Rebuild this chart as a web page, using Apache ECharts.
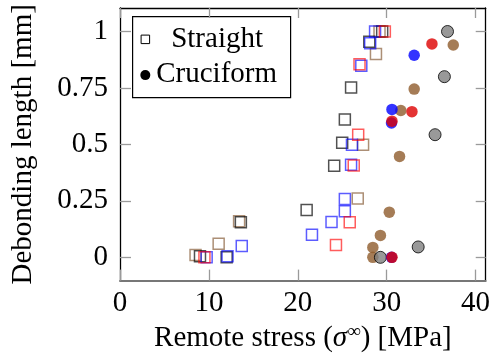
<!DOCTYPE html>
<html>
<head>
<meta charset="utf-8">
<script src="https://cdn.jsdelivr.net/npm/echarts@6/dist/echarts.min.js"></script>
<style>
  html, body { margin: 0; padding: 0; background: #fff; }
  #chart { width: 493px; height: 358px; }
</style>
</head>
<body>
<div id="chart"></div>
<script>
// Tick positions
const xTicks = [0, 10, 20, 30, 40];
const yTicks = [0, 0.25, 0.5, 0.75, 1];

// Straight specimens: [remote stress (MPa), debonding length (mm)]
const straightBlack = [[9.0, 0.005], [12.0, 0.0], [13.6, 0.155], [21.0, 0.21], [24.1, 0.405], [25.0, 0.507], [25.3, 0.61], [26.0, 0.752], [28.05, 0.955], [29.5, 1.0]];
const straightBlue = [[9.75, 0.0], [12.1, 0.005], [13.7, 0.05], [21.6, 0.10], [23.8, 0.157], [25.3, 0.204], [25.3, 0.258], [26.0, 0.41], [26.1, 0.499], [27.15, 0.848], [28.15, 0.948], [28.7, 1.0]];
const straightRed = [[9.5, 0.0], [24.3, 0.055], [25.85, 0.155], [26.3, 0.407], [26.8, 0.543], [26.95, 0.855], [29.8, 1.0]];
const straightBrown = [[8.5, 0.01], [11.1, 0.06], [13.4, 0.16], [26.75, 0.26], [27.35, 0.499], [28.8, 0.90], [29.2, 1.0]];

// Cruciform specimens
const cruciformBrown = [[28.45, 0.0], [28.45, 0.044], [29.3, 0.097], [30.3, 0.20], [31.45, 0.447], [31.6, 0.65], [33.1, 0.745], [37.5, 0.94]];
const cruciformGray = [[29.3, 0.0], [33.55, 0.046], [35.45, 0.543], [36.5, 0.80], [36.85, 1.0]];
const cruciformBlue = [[30.55, 0.0], [30.55, 0.595], [30.6, 0.655], [33.1, 0.895]];
const cruciformRed = [[30.6, 0.0], [30.6, 0.603], [32.85, 0.645], [35.1, 0.945]];

const FONT = 'Liberation Serif';
const FS = 29;

function squares(data, stroke) {
  return {
    type: 'scatter', data: data, symbol: 'rect', symbolSize: 11,
    itemStyle: { color: 'rgba(0,0,0,0)', borderColor: stroke, borderWidth: 1.5 },
    silent: true, emphasis: { disabled: true }
  };
}
function dots(data, fill, border) {
  return {
    type: 'scatter', data: data, symbol: 'circle', symbolSize: border ? 12 : 11.5,
    itemStyle: { color: fill, borderColor: border || fill, borderWidth: border ? 1 : 0 },
    silent: true, emphasis: { disabled: true }
  };
}

const chart = echarts.init(document.getElementById('chart'), null, { renderer: 'canvas' });

const tickStyle = { color: '#9a9a9a', width: 1.3 };
const frameStyle = { color: '#000', width: 1.3 };

chart.setOption({
  animation: false,
  backgroundColor: '#fff',
  grid: { left: 120, right: 2.5, top: 8, bottom: 77, containLabel: false },
  xAxis: [
    {
      type: 'value', position: 'bottom', min: 0, max: 41.15,
      axisLine: { show: true, onZero: false, lineStyle: { color: '#777', width: 2 } },
      axisTick: { show: true, inside: true, length: 11, lineStyle: tickStyle, customValues: xTicks },
      axisLabel: { show: true, customValues: xTicks, fontFamily: FONT, fontSize: FS, color: '#000', margin: 8 },
      splitLine: { show: false },
      name: '{a|Remote stress (}{s|σ}{sup|∞}{a|) [MPa]}',
      nameLocation: 'middle', nameGap: 28,
      nameTextStyle: {
        fontFamily: FONT, fontSize: FS, color: '#000',
        rich: {
          a: { fontFamily: FONT, fontSize: FS, color: '#000', lineHeight: 32 },
          s: { fontFamily: FONT, fontSize: FS, fontStyle: 'italic', color: '#000', lineHeight: 32 },
          sup: { fontFamily: FONT, fontSize: 19, color: '#000', verticalAlign: 'top', lineHeight: 22 }
        }
      }
    },
    {
      type: 'value', position: 'top', min: 0, max: 41.15,
      axisLine: { show: true, onZero: false, lineStyle: frameStyle },
      axisTick: { show: true, inside: true, length: 10, lineStyle: tickStyle, customValues: xTicks },
      axisLabel: { show: false },
      splitLine: { show: false }
    }
  ],
  yAxis: [
    {
      type: 'value', position: 'left', min: -0.103, max: 1.104,
      axisLine: { show: true, onZero: false, lineStyle: frameStyle },
      axisTick: { show: true, inside: true, length: 11, lineStyle: tickStyle, customValues: yTicks },
      axisLabel: { show: true, customValues: yTicks, fontFamily: FONT, fontSize: FS, color: '#000', margin: 12 },
      splitLine: { show: false },
      name: 'Debonding length [mm]',
      nameLocation: 'middle', nameGap: 82,
      nameTextStyle: { fontFamily: FONT, fontSize: FS, color: '#000' }
    },
    {
      type: 'value', position: 'right', min: -0.103, max: 1.104,
      axisLine: { show: true, onZero: false, lineStyle: frameStyle },
      axisTick: { show: true, inside: true, length: 10, lineStyle: tickStyle, customValues: yTicks },
      axisLabel: { show: false },
      splitLine: { show: false }
    }
  ],
  series: [
    squares(straightBrown, 'rgba(125,80,40,0.8)'),
    squares(straightBlack, 'rgba(0,0,0,0.85)'),
    squares(straightBlue, 'rgba(0,0,255,0.8)'),
    squares(straightRed, 'rgba(255,0,0,0.8)'),
    dots(cruciformBrown, '#8f5b2c'),
    dots(cruciformGray, '#808080', '#000'),
    dots(cruciformBlue, '#0000ff'),
    dots(cruciformRed, '#dd0000')
  ],
  graphic: [
    {
      type: 'group', left: 132, top: 16, z: 100,
      children: [
        { type: 'rect', shape: { x: 0.5, y: 0.5, width: 158, height: 81 },
          style: { fill: '#fff', stroke: '#000', lineWidth: 1.2 } },
        { type: 'rect', shape: { x: 9, y: 19, width: 8.5, height: 8.5 },
          style: { fill: 'none', stroke: '#000', lineWidth: 1 } },
        { type: 'circle', shape: { cx: 13.2, cy: 59, r: 5 },
          style: { fill: '#000' } },
        { type: 'text', x: 85, y: 23.5,
          style: { text: 'Straight', fontFamily: FONT, fontSize: FS, fill: '#000', align: 'center', verticalAlign: 'middle' } },
        { type: 'text', x: 84.5, y: 58,
          style: { text: 'Cruciform', fontFamily: FONT, fontSize: FS, fill: '#000', align: 'center', verticalAlign: 'middle' } }
      ]
    }
  ]
});
</script>
</body>
</html>
